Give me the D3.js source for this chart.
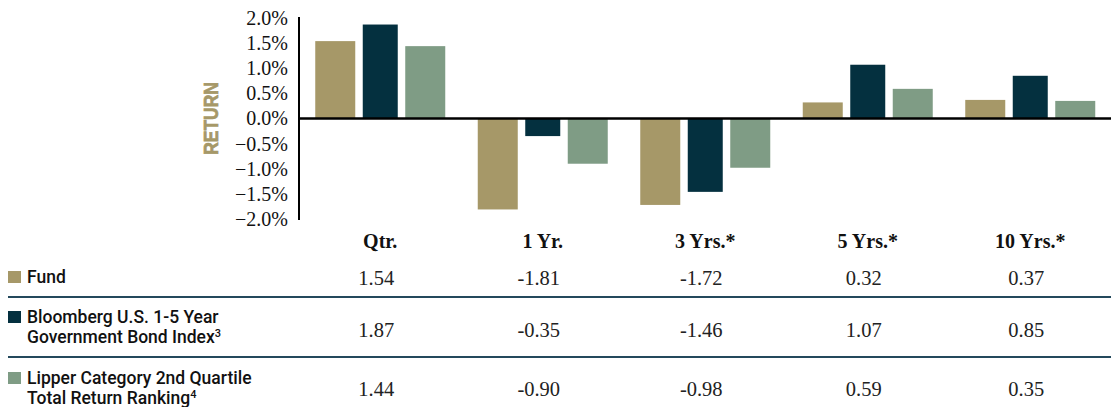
<!DOCTYPE html>
<meta charset="utf-8">
<script src="https://d3js.org/d3.v7.min.js"></script>
<style>
  body { margin: 0; background: #fff; }
</style>
<div id="chart"></div>
<script>
// Datos del grafico.
var categories = ["Qtr.", "1 Yr.", "3 Yrs.*", "5 Yrs.*", "10 Yrs.*"];
var seriesNames = ["fund", "bloomberg", "lipper"];
var fundValues = [1.54, -1.81, -1.72, 0.32, 0.37];
var bloombergValues = [1.87, -0.35, -1.46, 1.07, 0.85];
var lipperValues = [1.44, -0.90, -0.98, 0.59, 0.35];
var valueLabels = {
  fund: ["1.54", "-1.81", "-1.72", "0.32", "0.37"],
  bloomberg: ["1.87", "-0.35", "-1.46", "1.07", "0.85"],
  lipper: ["1.44", "-0.90", "-0.98", "0.59", "0.35"]
};
var legendLines = {
  fund: [["Fund", ""]],
  bloomberg: [["Bloomberg U.S. 1-5 Year", ""], ["Government Bond Index", "3"]],
  lipper: [["Lipper Category 2nd Quartile", ""], ["Total Return Ranking", "4"]]
};
var yTicks = [2.0, 1.5, 1.0, 0.5, 0.0, -0.5, -1.0, -1.5, -2.0];

var seriesValues = { fund: fundValues, bloomberg: bloombergValues, lipper: lipperValues };
var colors = { fund: "#a69868", bloomberg: "#04303f", lipper: "#7f9c85" };
var shrink = { fund: 0, bloomberg: 2.5, lipper: 0 };

var W = 1111, H = 407;
var svg = d3.select("#chart").append("svg")
    .attr("width", W).attr("height", H);

// Escalas.
var x0 = d3.scaleBand().domain(categories).range([299, 1111.5]).padding(0);
var x1 = d3.scaleBand().domain(seriesNames).range([-65, 65]).paddingInner(0.111);
var y = d3.scaleLinear().domain([-2, 2]).range([219, 18]);

// Eje y.
var yAxis = svg.append("g")
    .attr("transform", "translate(299,0)")
    .call(d3.axisLeft(y).tickValues(yTicks).tickSize(0).tickPadding(11)
      .tickFormat(function(d) { return d3.format(".1f")(d) + "%"; }));
yAxis.select(".domain").attr("stroke", "#000").attr("stroke-width", 2)
    .attr("d", "M0,17V220");
yAxis.selectAll("text")
    .attr("font-family", "'Liberation Serif', serif")
    .attr("font-size", 20).attr("fill", "#111");

// Titulo del eje y (condensado a mano).
svg.append("text")
    .attr("transform", "translate(218," + y(0) + ") rotate(-90) scale(0.85,1)")
    .attr("text-anchor", "middle")
    .attr("font-family", "'Liberation Sans', sans-serif")
    .attr("font-weight", "bold").attr("font-size", 20.5)
    .attr("fill", "#a69868")
    .attr("stroke", "#a69868").attr("stroke-width", 0.7)
    .text("RETURN");

// Barras.
seriesNames.forEach(function(s) {
  svg.append("g").selectAll("rect")
    .data(seriesValues[s])
    .enter().append("rect")
    .attr("x", function(d, i) { return x0(categories[i]) + x0.bandwidth() / 2 + x1(s) + shrink[s]; })
    .attr("width", x1.bandwidth() - 2 * shrink[s])
    .attr("y", function(d) { return y(Math.max(0, d)); })
    .attr("height", function(d) { return Math.abs(y(d) - y(0)); })
    .attr("fill", colors[s]);
});

// Linea de cero.
svg.append("line")
    .attr("x1", 299).attr("x2", W)
    .attr("y1", y(0)).attr("y2", y(0))
    .attr("stroke", "#000").attr("stroke-width", 2.5);

// Etiquetas de categoria.
svg.append("g").selectAll("text")
    .data(categories)
    .enter().append("text")
    .attr("x", function(d) { return x0(d) + x0.bandwidth() / 2; })
    .attr("y", 248)
    .attr("text-anchor", "middle")
    .attr("font-family", "'Liberation Serif', serif")
    .attr("font-weight", "bold").attr("font-size", 20)
    .attr("fill", "#111")
    .text(function(d) { return d; });

// Tabla.
var rowTop = { fund: 265, bloomberg: 305, lipper: 366 };
var rowValueY = { fund: 285, bloomberg: 337, lipper: 396 };
var lineY = [297, 357];

svg.append("g").selectAll("line")
    .data(lineY)
    .enter().append("line")
    .attr("x1", 8).attr("x2", W)
    .attr("y1", function(d) { return d; }).attr("y2", function(d) { return d; })
    .attr("stroke", "#24495c").attr("stroke-width", 2);

seriesNames.forEach(function(s) {
  var top = rowTop[s];
  svg.append("rect")
    .attr("x", 8).attr("y", top + 6)
    .attr("width", 13).attr("height", 12)
    .attr("fill", colors[s]);

  legendLines[s].forEach(function(ln, j) {
    var t = svg.append("text")
      .attr("x", 27).attr("y", top + 18 + j * 20)
      .attr("font-family", "Roboto, 'Liberation Sans', sans-serif")
      .attr("font-weight", 500).attr("font-size", 17.5)
      .attr("fill", "#111");
    t.append("tspan").text(ln[0]);
    if (ln[1]) {
      t.append("tspan").attr("dy", -6).attr("font-size", 11).text(ln[1]);
    }
  });

  svg.append("g").selectAll("text")
    .data(valueLabels[s])
    .enter().append("text")
    .attr("x", function(d, i) { return x0(categories[i]) + x0.bandwidth() / 2 - 4; })
    .attr("y", rowValueY[s])
    .attr("text-anchor", "middle")
    .attr("font-family", "'Liberation Serif', serif")
    .attr("font-size", 20.5)
    .attr("fill", "#222")
    .text(function(d) { return d; });
});
</script>
